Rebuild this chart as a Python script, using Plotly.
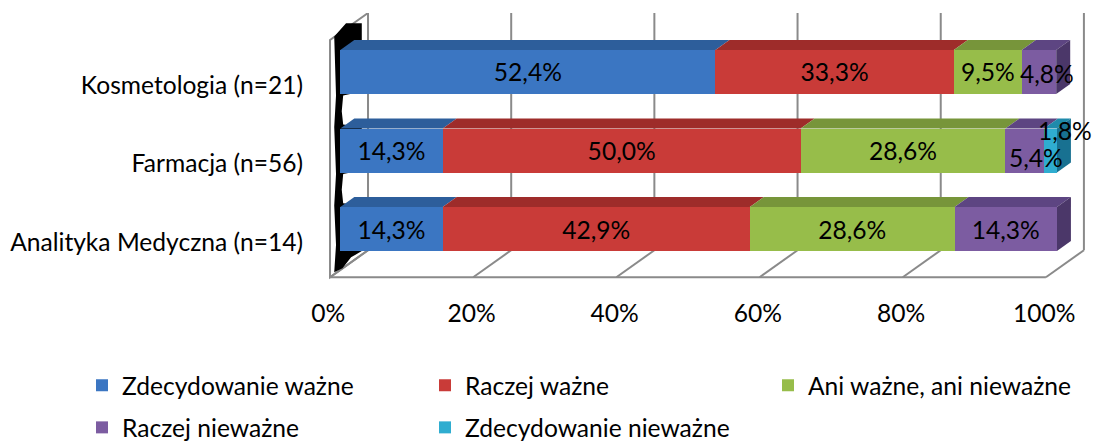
import plotly.graph_objects as go

# ---------------- data ----------------
categories = ["Analityka Medyczna (n=14)", "Farmacja (n=56)", "Kosmetologia (n=21)"]
series_names = ["Zdecydowanie ważne", "Raczej ważne", "Ani ważne, ani nieważne",
                "Raczej nieważne", "Zdecydowanie nieważne"]
zdecydowanie_wazne = [14.3, 14.3, 52.4]
raczej_wazne = [42.9, 50.0, 33.3]
ani_wazne_ani_niewazne = [28.6, 28.6, 9.5]
raczej_niewazne = [14.3, 5.4, 4.8]
zdecydowanie_niewazne = [0.0, 1.8, 0.0]
tick_values = [0, 20, 40, 60, 80, 100]
tick_labels = ["0%", "20%", "40%", "60%", "80%", "100%"]

series_values = [zdecydowanie_wazne, raczej_wazne, ani_wazne_ani_niewazne,
                 raczej_niewazne, zdecydowanie_niewazne]

# ---------------- style ----------------
FONT = "Lato"
FS = 24.6
front_colors = ["#3b76c2", "#c93b38", "#97bd4a", "#7c5ca1", "#2fadd0"]
top_colors = ["#2d5e9b", "#9e2c2a", "#77953a", "#5d4582", "#1f8aab"]
side_colors = ["#244b7c", "#7e2322", "#5f772e", "#4b3769", "#187191"]
grid_color = "#8a8a8a"

W, H = 1094, 443
ML, MR, MT = 326, 2, 13
XR = [-2, 105]
YR = [-0.75, 2.75]
plot_w = W - ML - MR
PX_X = plot_w / (XR[1] - XR[0])      # px per x unit
PX_Y = 78.5                            # px per category step
plot_h = PX_Y * (YR[1] - YR[0])
MB = H - MT - plot_h

BAR_W = 0.56
DX = 14 / PX_X       # depth offset of bar (x)
DY = 10 / PX_Y       # depth offset of bar (y)
BACK_X = 27.7 / PX_X # back wall offset
FRONT_X = -10.3 / PX_X
FLOOR_BACK_Y = YR[1] - 237 / PX_Y
FLOOR_FRONT_Y = YR[1] - 264 / PX_Y
WALL_FRONT_TOP_Y = YR[1] - 27 / PX_Y

def fmt(v):
    return (f"{v:.1f}%").replace(".", ",")

# labels that Excel displaced (category index, series index) -> (xshift, yshift) px
displaced = {(1, 3): (11, -7), (1, 4): (15, 20), (2, 3): (8, -2)}

ypos = list(range(len(categories)))
fig = go.Figure()
for s, (name, vals) in enumerate(zip(series_names, series_values)):
    texts = []
    for c, v in enumerate(vals):
        texts.append("" if (v <= 0 or (c, s) in displaced) else fmt(v))
    fig.add_trace(go.Bar(
        y=ypos, x=vals, name=name, orientation="h", width=BAR_W,
        marker=dict(color=front_colors[s], line=dict(width=0)),
        text=texts, textposition="inside", insidetextanchor="middle",
        textangle=0, constraintext="none",
        textfont=dict(family=FONT, size=FS, color="#000000"),
        legend="legend" if s < 3 else "legend2",
        hoverinfo="skip",
    ))

shapes = []
line_style = dict(color=grid_color, width=2)

# left wall
shapes.append(dict(type="path", layer="below",
                   path=f"M{BACK_X},{YR[1]} L{BACK_X},{FLOOR_BACK_Y} L{FRONT_X},{FLOOR_FRONT_Y} "
                        f"L{FRONT_X},{WALL_FRONT_TOP_Y} Z",
                   line=line_style, fillcolor="white"))
# back wall gridlines + floor lines
for t in tick_values:
    shapes.append(dict(type="line", layer="below", x0=t + BACK_X, x1=t + BACK_X,
                       y0=YR[1], y1=FLOOR_BACK_Y, line=line_style))
    shapes.append(dict(type="line", layer="below", x0=t + BACK_X, x1=t + FRONT_X,
                       y0=FLOOR_BACK_Y, y1=FLOOR_FRONT_Y, line=line_style))
shapes.append(dict(type="line", layer="below", x0=tick_values[0] + FRONT_X,
                   x1=tick_values[-1] + FRONT_X, y0=FLOOR_FRONT_Y, y1=FLOOR_FRONT_Y,
                   line=line_style))

# black left-end rendering artefact behind the bars
xl = -0.85
pts = [(xl, 2.45), (0.8, 2.62), (3.0, 2.62), (3.0, 1.75),
       (0.4, 1.70), (0.2, 1.5), (0.4, 1.33), (3.0, 1.30), (3.0, 0.75),
       (0.4, 0.70), (0.2, 0.5), (0.4, 0.33), (3.0, 0.30), (3.0, -0.28),
       (1.5, -0.36), (0.3, -0.5), (xl, -0.55), (-0.6, -0.2), (xl, 0.3),
       (-0.6, 0.7), (xl, 1.3), (-0.6, 1.7)]
shapes.append(dict(type="path", layer="below",
                   path="M" + " L".join(f"{x},{y}" for x, y in pts) + " Z",
                   fillcolor="black", line=dict(width=0)))

# 3D faces of the bars (top faces + right end face)
for c in range(len(categories)):
    left = 0.0
    last = None
    top = c + BAR_W / 2
    bot = c - BAR_W / 2
    for s, vals in enumerate(series_values):
        v = vals[c]
        if v <= 0:
            continue
        right = left + v
        shapes.append(dict(type="path", layer="below",
                           path=f"M{left},{top} L{left + DX},{top + DY} L{right + DX},{top + DY} "
                                f"L{right},{top} Z",
                           fillcolor=top_colors[s], line=dict(width=0)))
        last = (s, right)
        left = right
    s, right = last
    shapes.append(dict(type="path", layer="below",
                       path=f"M{right},{bot} L{right},{top} L{right + DX},{top + DY} "
                            f"L{right + DX},{bot + DY} Z",
                       fillcolor=side_colors[s], line=dict(width=0)))

# displaced data labels
annotations = []
for (c, s), (xs, ys) in displaced.items():
    start = sum(series_values[k][c] for k in range(s))
    v = series_values[s][c]
    annotations.append(dict(x=start + v / 2, y=c, text=fmt(v), showarrow=False,
                            xshift=xs, yshift=ys,
                            font=dict(family=FONT, size=FS, color="#000000")))

fig.update_layout(
    width=W, height=H,
    margin=dict(l=ML, r=MR, t=MT, b=MB, autoexpand=False),
    barmode="stack",
    plot_bgcolor="white", paper_bgcolor="white",
    font=dict(family=FONT, size=FS, color="#000000"),
    shapes=shapes, annotations=annotations,
    xaxis=dict(range=XR, showgrid=False, zeroline=False, showline=False,
               tickvals=tick_values, ticktext=tick_labels, ticks="",
               ticklabelshift=-12, ticklabelstandoff=8,
               tickfont=dict(family=FONT, size=FS, color="#000000"), fixedrange=True),
    yaxis=dict(range=YR, showgrid=False, zeroline=False, showline=False,
               tickvals=ypos, ticktext=categories, ticks="",
               ticklabelshift=13, ticklabelstandoff=22,
               tickfont=dict(family=FONT, size=FS, color="#000000"), fixedrange=True),
    legend=dict(orientation="h", x=(82 - ML) / plot_w, xanchor="left",
                y=(MT + plot_h - 385) / plot_h, yanchor="middle",
                entrywidth=298, entrywidthmode="pixels", traceorder="normal",
                font=dict(family=FONT, size=FS, color="#000000"),
                bgcolor="rgba(0,0,0,0)"),
    legend2=dict(orientation="h", x=(82 - ML) / plot_w, xanchor="left",
                 y=(MT + plot_h - 427) / plot_h, yanchor="middle",
                 entrywidth=298, entrywidthmode="pixels", traceorder="normal",
                 font=dict(family=FONT, size=FS, color="#000000"),
                 bgcolor="rgba(0,0,0,0)"),
    showlegend=True,
)

fig.write_html("out.html", config={"displayModeBar": False},
               post_script="document.body.style.margin='0';document.body.style.overflow='hidden';")
